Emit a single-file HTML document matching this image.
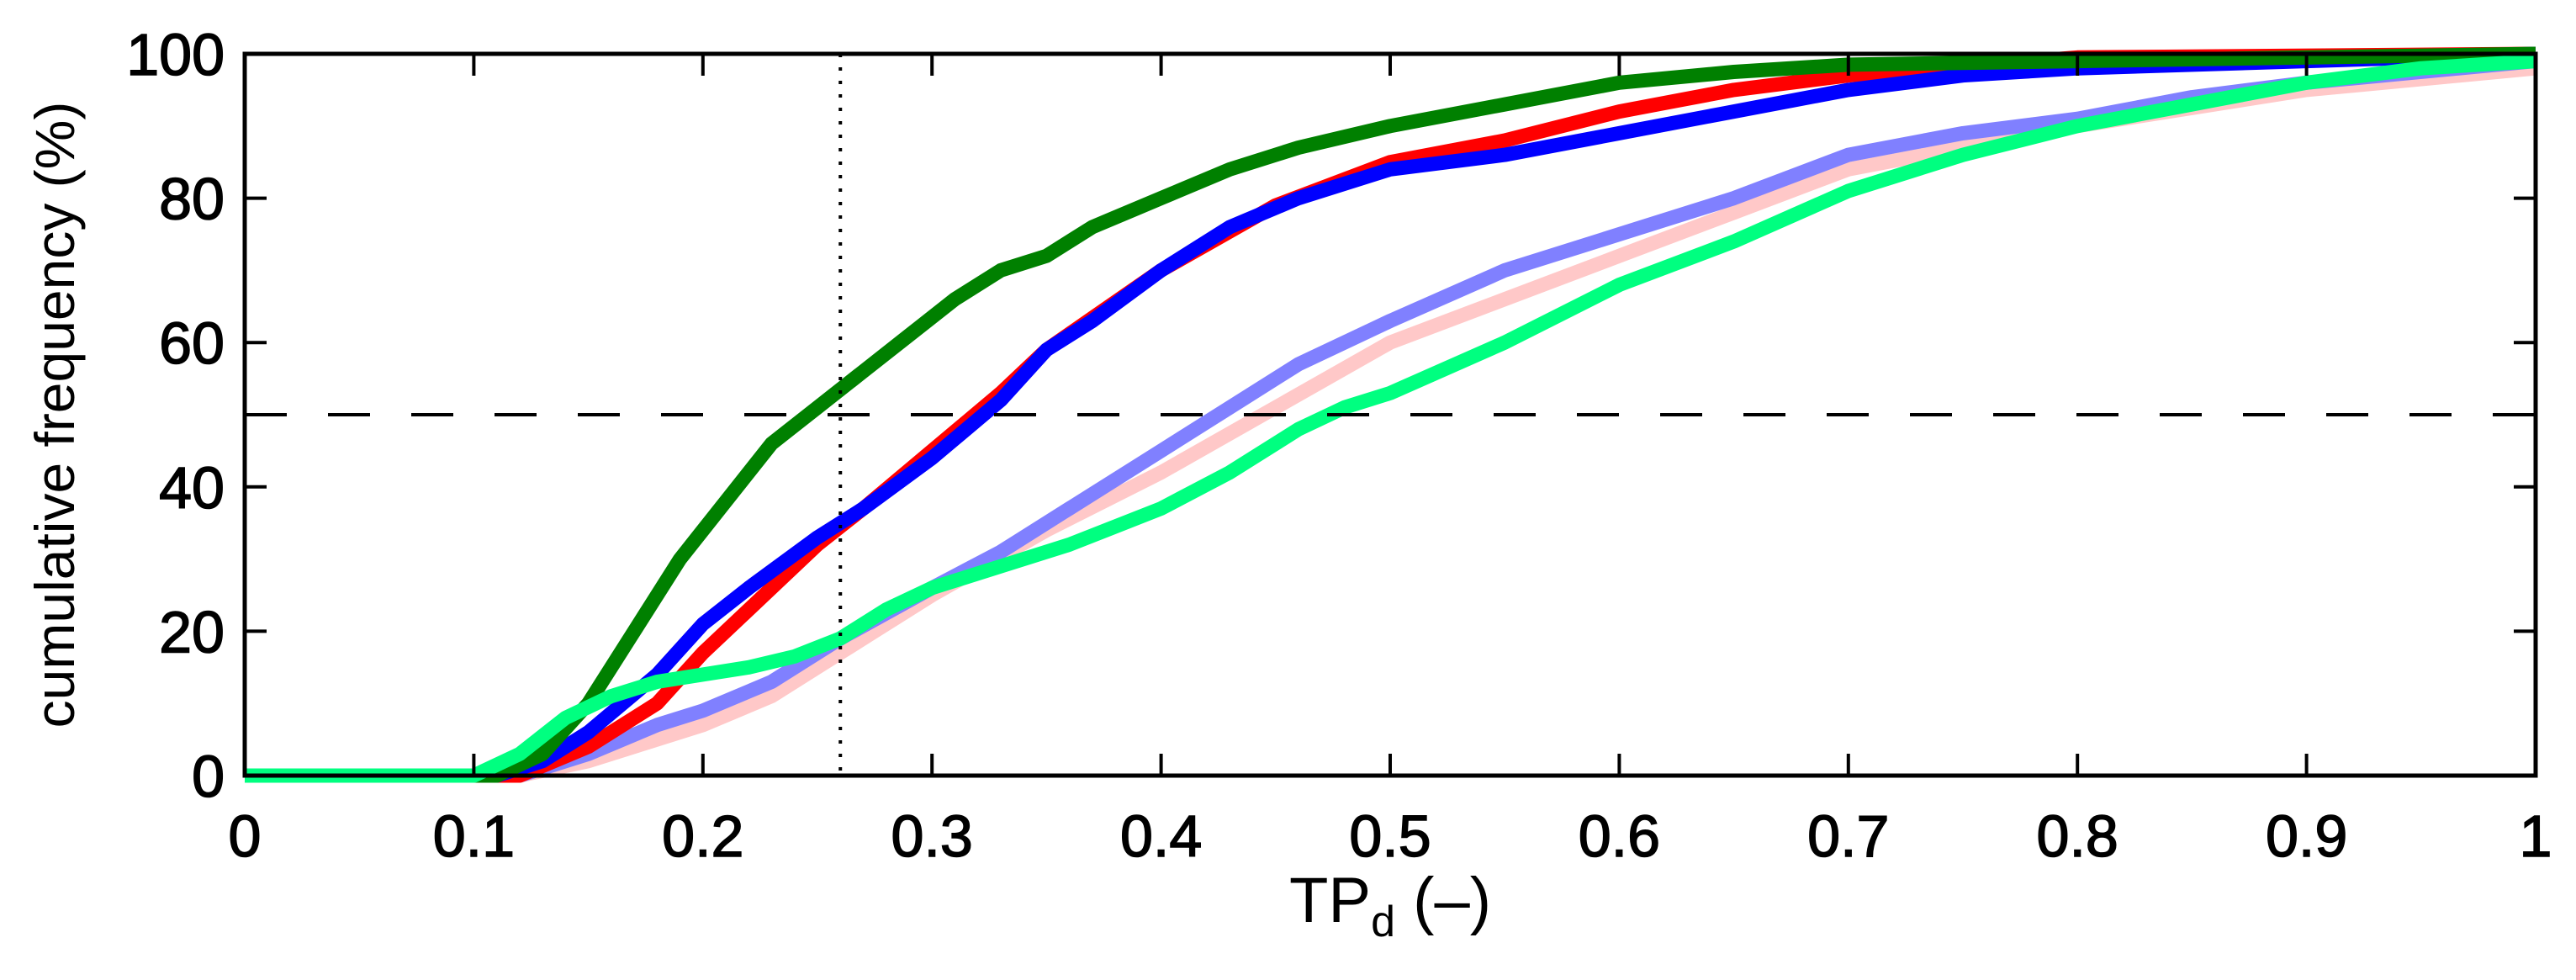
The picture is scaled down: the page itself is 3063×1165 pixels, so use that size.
<!DOCTYPE html>
<html><head><meta charset="utf-8">
<style>
html,body{margin:0;padding:0;background:#fff;}
svg{display:block;}
text{font-family:"Liberation Sans",Arial,sans-serif;fill:#000;}
</style></head>
<body>
<svg id="chart" width="3063" height="1165" viewBox="0 0 3063 1165" xmlns="http://www.w3.org/2000/svg">
  <g id="series"></g>
  <g id="axes"></g>
</svg>
<script>
const xTicks = [0,0.1,0.2,0.3,0.4,0.5,0.6,0.7,0.8,0.9,1];
const xTickLabels = ["0","0.1","0.2","0.3","0.4","0.5","0.6","0.7","0.8","0.9","1"];
const yTicks = [0,20,40,60,80,100];
const yTickLabels = ["0","20","40","60","80","100"];
const refY = 50;
const refX = 0.26;

const pinkX = [0,0.12,0.15,0.2,0.23,0.26,0.3,0.35,0.4,0.45,0.5,0.55,0.6,0.65,0.7,0.75,0.8,0.9,1];
const pinkY = [0,0,2,7,11,17,25,34,42,51,60,66,72,78,84,87,90,95,98];
const lightBlueX = [0,0.12,0.15,0.18,0.2,0.23,0.26,0.3,0.33,0.36,0.4,0.43,0.46,0.5,0.55,0.6,0.65,0.7,0.75,0.8,0.85,0.9,1];
const lightBlueY = [0,0,3,7,9,13,19,26,31,37,45,51,57,63,70,75,80,86,89,91,94,96,99];
const redX = [0,0.12,0.15,0.18,0.2,0.22,0.25,0.27,0.3,0.33,0.35,0.4,0.45,0.5,0.55,0.6,0.65,0.7,0.8,1];
const redY = [0,0,4,10,17,23,32,37,45,53,59,70,79,85,88,92,95,97,99.5,100];
const blueX = [0,0.11,0.13,0.15,0.18,0.2,0.22,0.25,0.27,0.3,0.33,0.35,0.37,0.4,0.43,0.46,0.5,0.55,0.6,0.65,0.7,0.75,0.8,0.9,1];
const blueY = [0,0,2,6,14,21,26,33,37,44,52,59,63,70,76,80,84,86,89,92,95,97,98,99,100];
const darkGreenX = [0,0.11,0.13,0.15,0.17,0.19,0.21,0.23,0.25,0.27,0.29,0.31,0.33,0.35,0.37,0.4,0.43,0.46,0.5,0.55,0.6,0.65,0.7,0.8,1];
const darkGreenY = [0,0,3,10,20,30,38,46,51,56,61,66,70,72,76,80,84,87,90,93,96,97.5,98.5,99,100];
const springX = [0,0.1,0.12,0.14,0.16,0.18,0.2,0.22,0.24,0.26,0.28,0.3,0.33,0.36,0.4,0.43,0.46,0.48,0.5,0.55,0.6,0.65,0.7,0.75,0.8,0.85,0.9,0.95,1];
const springY = [0,0,3,8,11,13,14,15,16.5,19,23,26,29,32,37,42,48,51,53,60,68,74,81,86,90,93,96,98,99];

const L=291,R=3015,T=64,B=922;
const NS='http://www.w3.org/2000/svg';
function sx(v){return L+(R-L)*v;}
function sy(v){return B-(B-T)*v/100;}
function mk(tag,attrs,parent){const e=document.createElementNS(NS,tag);for(const k in attrs)e.setAttribute(k,attrs[k]);parent.appendChild(e);return e;}
const sg=document.getElementById('series'), ag=document.getElementById('axes');

function drawSeries(xs,ys,color,name){
  const d=xs.map((x,i)=>(i?'L':'M')+sx(x).toFixed(1)+','+sy(ys[i]).toFixed(1)).join(' ');
  const p=mk('path',{d:d,fill:'none',stroke:color,'stroke-width':17,'stroke-linejoin':'round','stroke-linecap':'butt'},sg);
  
  
}
drawSeries(pinkX,pinkY,'#ffc8c8','series-pink');
drawSeries(lightBlueX,lightBlueY,'#8080ff','series-light-blue');
drawSeries(redX,redY,'#ff0000','series-red');
drawSeries(blueX,blueY,'#0000ff','series-blue');
drawSeries(darkGreenX,darkGreenY,'#008000','series-dark-green');
drawSeries(springX,springY,'#00ff80','series-spring-green');

const hl=mk('line',{x1:L,x2:R,y1:sy(refY),y2:sy(refY),stroke:'#000','stroke-width':4,'stroke-dasharray':'50 49'},ag);


const vl=mk('line',{x1:sx(refX),x2:sx(refX),y1:T,y2:B,stroke:'#000','stroke-width':4,'stroke-dasharray':'4 12'},ag);



const fr=mk('rect',{x:L,y:T,width:R-L,height:B-T,fill:'none',stroke:'#000','stroke-width':5},ag);



xTicks.forEach((v,i)=>{
  const x=sx(v);
  mk('line',{x1:x,x2:x,y1:B,y2:B-26,stroke:'#000','stroke-width':4},ag);
  mk('line',{x1:x,x2:x,y1:T,y2:T+26,stroke:'#000','stroke-width':4},ag);
  const t=mk('text',{x:x,y:1018,'text-anchor':'middle','font-size':70,stroke:'#000','stroke-width':1.5},ag);
  t.textContent=xTickLabels[i];
  
  
});
yTicks.forEach((v,i)=>{
  const y=sy(v);
  mk('line',{x1:L,x2:L+26,y1:y,y2:y,stroke:'#000','stroke-width':4},ag);
  mk('line',{x1:R,x2:R-26,y1:y,y2:y,stroke:'#000','stroke-width':4},ag);
  const t=mk('text',{x:267,y:y+25,'text-anchor':'end','font-size':70,stroke:'#000','stroke-width':1.5},ag);
  t.textContent=yTickLabels[i];
  
  
});

const xt=mk('text',{x:(L+R)/2,y:1096,'text-anchor':'middle','font-size':76},ag);
xt.innerHTML='TP<tspan font-size="52" dy="17">d</tspan><tspan dy="-17"> (–)</tspan>';


const yt=mk('text',{x:0,y:0,'text-anchor':'middle','font-size':66,transform:'translate(88,'+((T+B)/2)+') rotate(-90)'},ag);
yt.textContent='cumulative frequency (%)';


</script>
</body></html>
